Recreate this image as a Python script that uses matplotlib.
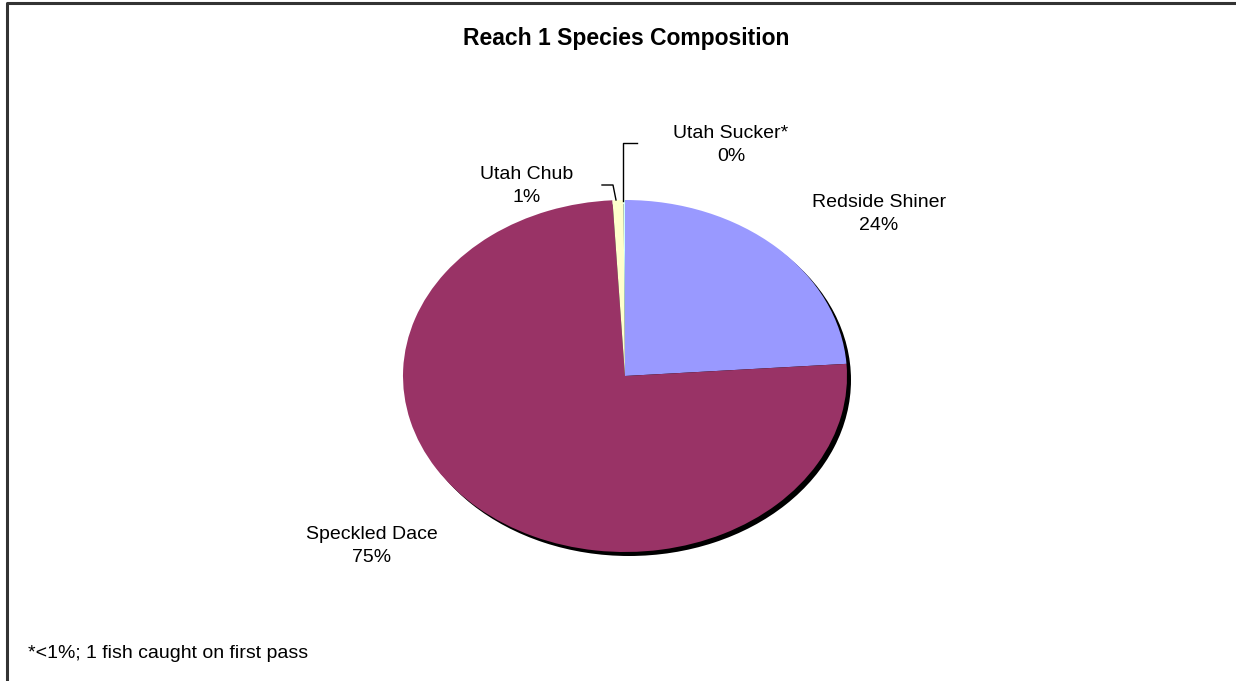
import matplotlib
matplotlib.use("Agg")
import matplotlib.pyplot as plt
from matplotlib.lines import Line2D

# Species composition for Reach 1 (percent of fish caught)
species = ["Redside Shiner", "Speckled Dace", "Utah Chub", "Utah Sucker*"]
percent = [23.9, 75.2, 0.8, 0.1]
colors = ["#9999FF", "#993366", "#FFFFCC", "#CCFFFF"]
title = "Reach 1 Species Composition"
footnote = "*<1%; 1 fish caught on first pass"

W, H = 1236, 681
fig = plt.figure(figsize=(W / 100, H / 100), dpi=100)
fig.patch.set_facecolor("white")

FONT = "Liberation Sans"


def fx(px):
    return px / W


def fy(py):
    return 1 - py / H


# pie region (ellipse bounding box in pixels)
left, right, top, bottom = 403, 847, 200, 552
ax = fig.add_axes([fx(left), fy(bottom), (right - left) / W, (bottom - top) / H])

# drop shadow behind the pie, offset down and to the right
shadow_ax = fig.add_axes([fx(left + 4), fy(bottom + 4), (right - left) / W, (bottom - top) / H])
shadow_ax.pie([1], colors=["black"], radius=1.0)
shadow_ax.set_aspect("auto")
shadow_ax.set_xlim(-1, 1)
shadow_ax.set_ylim(-1, 1)
shadow_ax.axis("off")
shadow_ax.set_zorder(0)

ax.pie(percent, colors=colors, startangle=90, counterclock=False, radius=1.0,
       wedgeprops=dict(linewidth=0))
ax.set_aspect("auto")
ax.set_xlim(-1, 1)
ax.set_ylim(-1, 1)
ax.axis("off")
ax.set_zorder(1)

# slice labels: name plus rounded percentage
label_pos = {
    "Redside Shiner": (879, 214),
    "Speckled Dace": (372, 546),
    "Utah Chub": (527, 186),
    "Utah Sucker*": (731, 145),
}
for name, val in zip(species, percent):
    x, y = label_pos[name]
    fig.text(fx(x), fy(y), f"{name}\n{round(val):d}%", ha="center", va="center",
             multialignment="center", fontsize=14, family=FONT, linespacing=1.45,
             color="black")

# leader lines for the two thin slices
fig.add_artist(Line2D([fx(602), fx(613), fx(616)], [fy(185), fy(185), fy(200)],
                      color="black", lw=1))
fig.add_artist(Line2D([fx(637), fx(623), fx(623)], [fy(143), fy(143), fy(201)],
                      color="black", lw=1))

fig.text(fx(626), fy(38), title, ha="center", va="center", fontsize=16.5,
         fontweight="bold", family=FONT)
fig.text(fx(28), fy(654), footnote, ha="left", va="center", fontsize=14, family=FONT)

# chart-area frame (left and top edges visible)
fig.add_artist(Line2D([fx(7), fx(7), fx(W + 5)], [fy(H + 5), fy(3), fy(3)],
                      color="#333333", lw=2.2))

fig.savefig("out.png", dpi=100, facecolor="white")
